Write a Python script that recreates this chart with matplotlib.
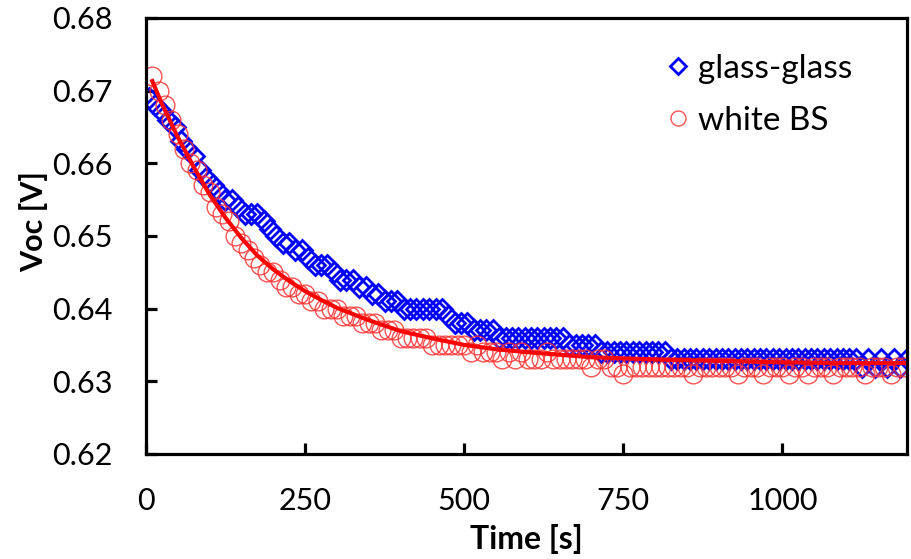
import matplotlib
matplotlib.use("Agg")
import matplotlib.pyplot as plt

plt.rcParams['font.family'] = ['Lato', 'DejaVu Sans']

# glass-glass (blue diamonds)
t_gg = [5, 15, 25, 35, 45, 55, 65, 75, 85, 95,
        105, 115, 125, 135, 145, 155, 165, 175, 185, 195,
        205, 215, 225, 235, 245, 255, 265, 275, 285, 295,
        305, 315, 325, 335, 345, 355, 365, 375, 385, 395,
        405, 415, 425, 435, 445, 455, 465, 475, 485, 495,
        505, 515, 525, 535, 545, 555, 565, 575, 585, 595,
        605, 615, 625, 635, 645, 655, 665, 675, 685, 695,
        705, 715, 725, 735, 745, 755, 765, 775, 785, 795,
        805, 815, 825, 835, 845, 855, 865, 875, 885, 895,
        905, 915, 925, 935, 945, 955, 965, 975, 985, 995,
        1005, 1015, 1025, 1035, 1045, 1055, 1065, 1075, 1085, 1095,
        1105, 1115, 1125, 1135, 1145, 1155, 1165, 1175, 1185, 1195]
v_gg = [0.669, 0.668, 0.667, 0.666, 0.665, 0.663, 0.662, 0.661, 0.659, 0.658,
        0.657, 0.656, 0.655, 0.655, 0.654, 0.653, 0.653, 0.653, 0.652, 0.651,
        0.650, 0.649, 0.649, 0.648, 0.648, 0.647, 0.646, 0.646, 0.646, 0.645,
        0.644, 0.644, 0.644, 0.643, 0.643, 0.642, 0.642, 0.641, 0.641, 0.641,
        0.640, 0.640, 0.640, 0.640, 0.640, 0.640, 0.640, 0.639, 0.638, 0.638,
        0.638, 0.637, 0.637, 0.637, 0.637, 0.636, 0.636, 0.636, 0.636, 0.636,
        0.636, 0.636, 0.636, 0.636, 0.636, 0.636, 0.635, 0.635, 0.635, 0.635,
        0.635, 0.634, 0.634, 0.634, 0.634, 0.634, 0.634, 0.634, 0.634, 0.634,
        0.634, 0.634, 0.633, 0.633, 0.633, 0.633, 0.633, 0.633, 0.633, 0.633,
        0.633, 0.633, 0.633, 0.633, 0.633, 0.633, 0.633, 0.633, 0.633, 0.633,
        0.633, 0.633, 0.633, 0.633, 0.633, 0.633, 0.633, 0.633, 0.633, 0.633,
        0.633, 0.633, 0.632, 0.633, 0.632, 0.633, 0.632, 0.633, 0.632, 0.633]

# white BS (red circles)
t_bs = [10, 20, 30, 40, 50, 60, 70, 80, 90, 100,
        110, 120, 130, 140, 150, 160, 170, 180, 190, 200,
        210, 220, 230, 240, 250, 260, 270, 280, 290, 300,
        310, 320, 330, 340, 350, 360, 370, 380, 390, 400,
        410, 420, 430, 440, 450, 460, 470, 480, 490, 500,
        510, 520, 530, 540, 550, 560, 570, 580, 590, 600,
        610, 620, 630, 640, 650, 660, 670, 680, 690, 700,
        710, 720, 730, 740, 750, 760, 770, 780, 790, 800,
        810, 820, 830, 840, 850, 860, 870, 880, 890, 900,
        910, 920, 930, 940, 950, 960, 970, 980, 990, 1000,
        1010, 1020, 1030, 1040, 1050, 1060, 1070, 1080, 1090, 1100,
        1110, 1120, 1130, 1140, 1150, 1160, 1170, 1180, 1190]
v_bs = [0.672, 0.670, 0.668, 0.666, 0.664, 0.662, 0.660, 0.659, 0.657, 0.656,
        0.654, 0.653, 0.652, 0.650, 0.649, 0.648, 0.647, 0.646, 0.645, 0.645,
        0.644, 0.643, 0.643, 0.642, 0.642, 0.641, 0.641, 0.640, 0.640, 0.640,
        0.639, 0.639, 0.639, 0.638, 0.638, 0.638, 0.637, 0.637, 0.637, 0.636,
        0.636, 0.636, 0.636, 0.636, 0.635, 0.635, 0.635, 0.635, 0.635, 0.635,
        0.634, 0.635, 0.634, 0.634, 0.634, 0.633, 0.634, 0.633, 0.634, 0.633,
        0.633, 0.633, 0.634, 0.633, 0.633, 0.633, 0.633, 0.633, 0.633, 0.632,
        0.633, 0.633, 0.632, 0.632, 0.631, 0.632, 0.632, 0.632, 0.632, 0.632,
        0.632, 0.632, 0.632, 0.632, 0.632, 0.631, 0.632, 0.632, 0.632, 0.632,
        0.632, 0.632, 0.631, 0.632, 0.632, 0.632, 0.631, 0.632, 0.632, 0.632,
        0.631, 0.632, 0.632, 0.631, 0.632, 0.632, 0.632, 0.631, 0.632, 0.632,
        0.632, 0.632, 0.631, 0.632, 0.632, 0.632, 0.631, 0.632, 0.632]

# fitted curve for white BS
t_fit = [10, 25, 50, 75, 100, 125, 150, 175, 200, 225, 250, 275, 300,
         350, 400, 450, 500, 550, 600, 700, 800, 900, 1000, 1100, 1200]
v_fit = [0.6713, 0.6682, 0.6636, 0.6595, 0.6557, 0.6525, 0.6497, 0.6473,
         0.6454, 0.6438, 0.6424, 0.6412, 0.6401, 0.6384, 0.6369, 0.6359,
         0.6350, 0.6344, 0.6340, 0.6333, 0.6330, 0.6328, 0.6326, 0.6325,
         0.6325]

x_ticks = [0, 250, 500, 750, 1000]
y_ticks = [0.62, 0.63, 0.64, 0.65, 0.66, 0.67, 0.68]

fig = plt.figure(figsize=(9.12, 5.59), dpi=100)
ax = fig.add_axes([0.160, 0.188, 0.834, 0.780])

ax.plot(t_gg, v_gg, linestyle='none', marker='D', markersize=10,
        markerfacecolor='none', markeredgecolor='#0000FF', markeredgewidth=2.0,
        label='glass-glass')
ax.plot(t_bs, v_bs, linestyle='none', marker='o', markersize=13.5,
        markerfacecolor='none', markeredgecolor='#FF3333', markeredgewidth=1.0,
        alpha=0.85, label='white BS')
ax.plot(t_fit, v_fit, color='#FF0000', linewidth=3)

ax.set_xlim(0, 1195)
ax.set_ylim(0.62, 0.68)
ax.set_xticks(x_ticks)
ax.set_yticks(y_ticks)
ax.set_yticklabels(['%.2f' % v for v in y_ticks])

for s in ax.spines.values():
    s.set_linewidth(2.3)
ax.tick_params(direction='in', length=8, width=2.3, labelsize=22, pad=24)

ax.set_xlabel('Time [s]', fontsize=23, fontweight='bold', labelpad=0)
ax.set_ylabel('Voc [V]', fontsize=22, fontweight='bold', labelpad=0)
ax.xaxis.set_label_coords(0.50, -0.160)
ax.yaxis.set_label_coords(-0.128, 0.532)

leg = ax.legend(loc='upper left', frameon=False, fontsize=24,
                handlelength=0.6, handletextpad=0.3, labelspacing=0.66,
                borderaxespad=0, borderpad=0, markerscale=0.8,
                bbox_to_anchor=(0.687, 0.918))

fig.savefig('out.png', dpi=100)
